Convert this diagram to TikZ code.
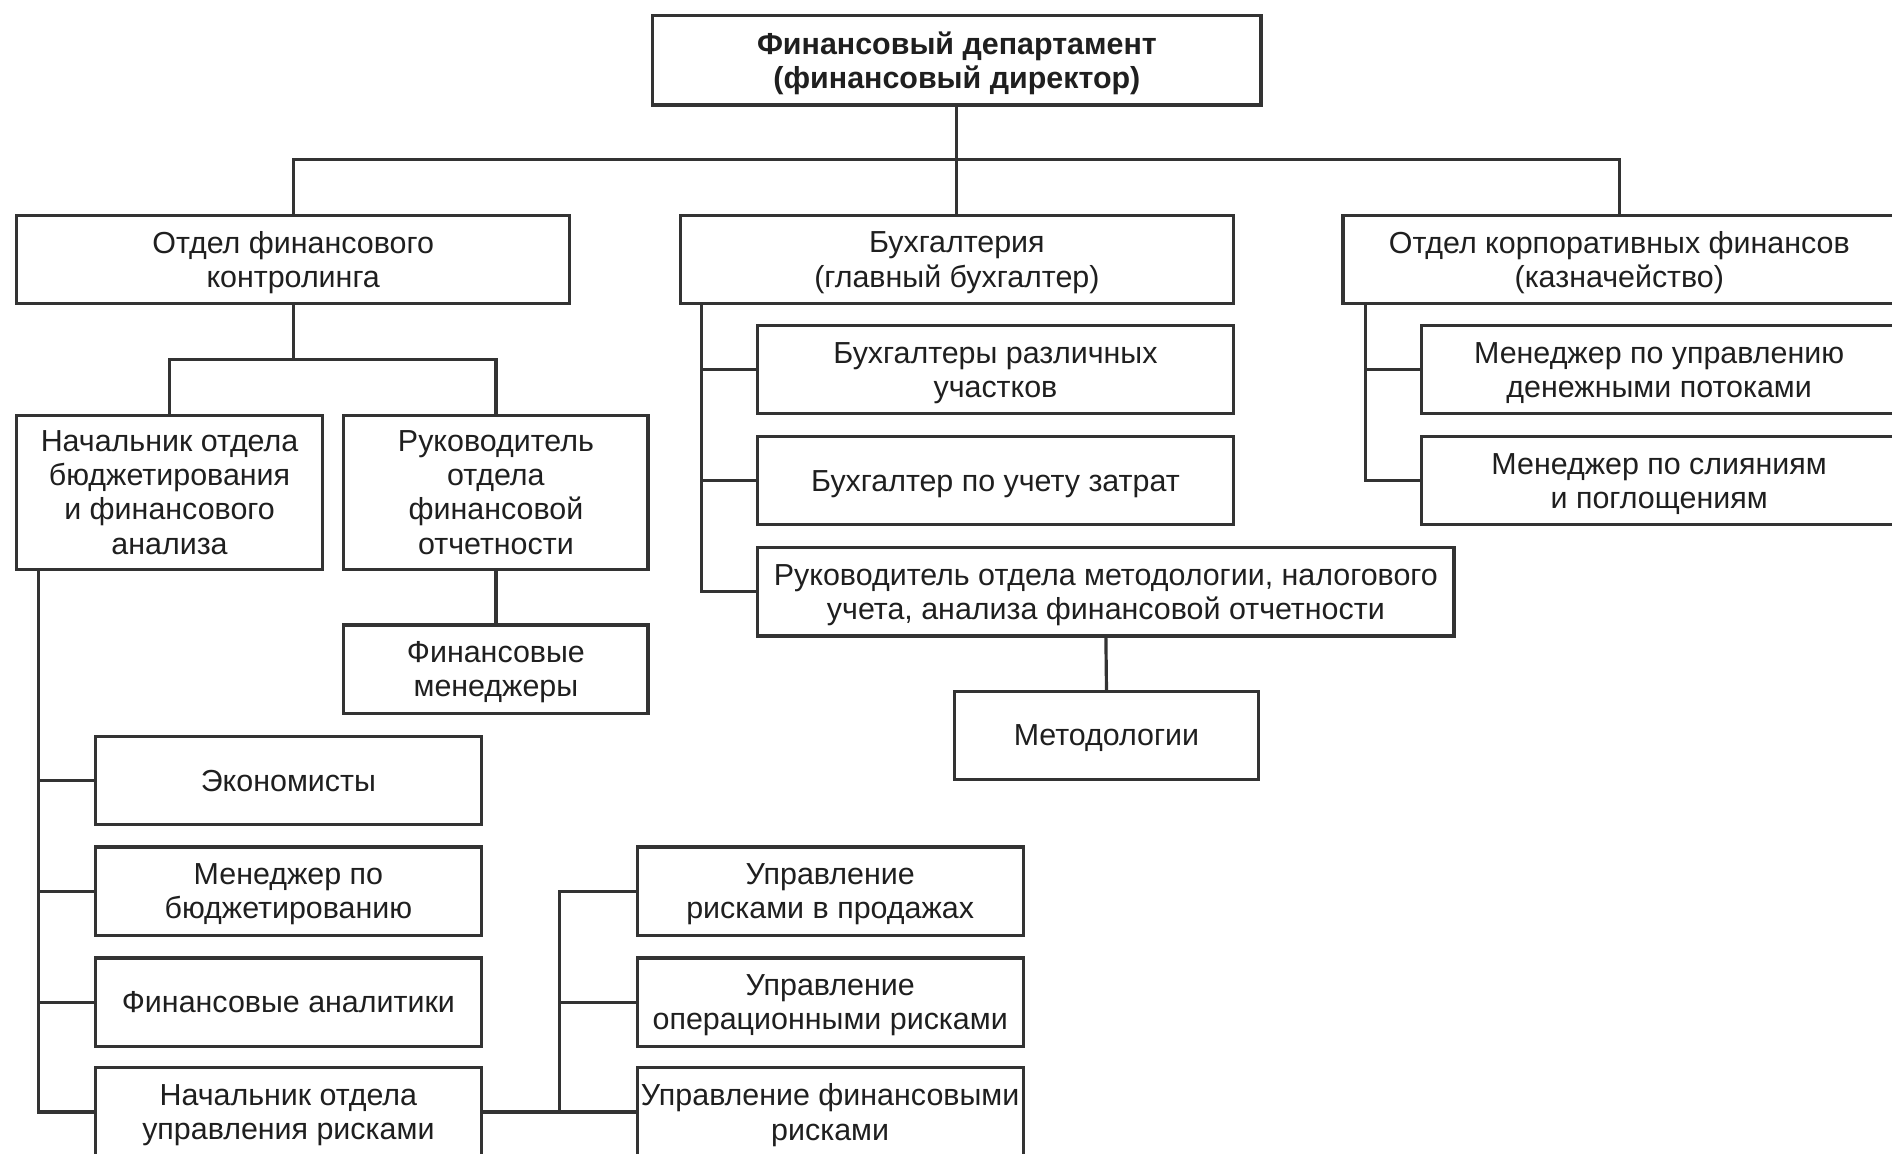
\documentclass[tikz,border=0pt]{standalone}
\usepackage{fontspec}
\setmainfont{Liberation Sans}
\usetikzlibrary{calc}
\newlength{\du}
\setlength{\du}{0.012cm}
\definecolor{dialinecolor}{rgb}{0.200000, 0.200000, 0.200000}
\definecolor{textcolor}{rgb}{0.120000, 0.120000, 0.120000}
\tikzset{
  orgbox/.style={draw=dialinecolor, line width=0.9pt, fill=white, rectangle, inner sep=0pt,
    align=center, text=textcolor, text depth=0pt, font=\fontsize{8.6}{9.7}\selectfont},
  orgline/.style={draw=dialinecolor, line width=0.9pt}
}
\begin{document}
\begin{tikzpicture}
\pgftransformxscale{1.000000}
\pgftransformyscale{-1.000000}
\useasboundingbox (0\du,0\du) rectangle (1568\du,956\du);
\clip (0\du,0\du) rectangle (1568\du,956\du);
% head
\node[orgbox, font=\fontsize{8.6}{9.7}\selectfont\bfseries, minimum width=504\du, minimum height=74\du] (findep) at (793\du,50\du) {Финансовый департамент\\(финансовый директор)};
% departments
\node[orgbox, minimum width=458\du, minimum height=73\du] (otdelfk) at (243\du,215\du) {Отдел финансового\\контролинга};
\node[orgbox, minimum width=458\du, minimum height=73\du] (buh) at (793\du,215\du) {Бухгалтерия\\(главный бухгалтер)};
\node[orgbox, minimum width=458\du, minimum height=73\du] (korp) at (1342\du,215\du) {Отдел корпоративных финансов\\(казначейство)};
% controlling
\node[orgbox, minimum width=253\du, minimum height=128\du] (nachb) at (140.5\du,408\du) {Начальник отдела\\бюджетирования\\и финансового\\анализа};
\node[orgbox, minimum width=252\du, minimum height=128\du] (rukfo) at (411\du,408\du) {Руководитель\\отдела\\финансовой\\отчетности};
\node[orgbox, minimum width=252\du, minimum height=73\du] (finm) at (411\du,554.5\du) {Финансовые\\менеджеры};
\node[orgbox, minimum width=320\du, minimum height=73\du] (ekon) at (239\du,647\du) {Экономисты};
\node[orgbox, minimum width=320\du, minimum height=73\du] (menbud) at (239\du,738.5\du) {Менеджер по\\бюджетированию};
\node[orgbox, minimum width=320\du, minimum height=73\du] (finan) at (239\du,830.5\du) {Финансовые аналитики};
\node[orgbox, minimum width=320\du, minimum height=73\du] (nachr) at (239\du,921.5\du) {Начальник отдела\\управления рисками};
\node[orgbox, minimum width=320\du, minimum height=73\du] (risks) at (688\du,738.5\du) {Управление\\рисками в продажах};
\node[orgbox, minimum width=320\du, minimum height=73\du] (risko) at (688\du,830.5\du) {Управление\\операционными рисками};
\node[orgbox, minimum width=320\du, minimum height=73\du] (riskf) at (688\du,921.5\du) {Управление финансовыми\\рисками};
% accounting
\node[orgbox, minimum width=394\du, minimum height=73\du] (buhu) at (825\du,306.5\du) {Бухгалтеры различных\\участков};
\node[orgbox, minimum width=394\du, minimum height=73\du] (buhz) at (825\du,398.5\du) {Бухгалтер по учету затрат};
\node[orgbox, minimum width=577\du, minimum height=73\du] (rukm) at (916.5\du,490.5\du) {Руководитель отдела методологии, налогового\\учета, анализа финансовой отчетности};
\node[orgbox, minimum width=252\du, minimum height=73\du] (metod) at (917\du,609.5\du) {Методологии};
% treasury
\node[orgbox, minimum width=394\du, minimum height=73\du] (mden) at (1375\du,306.5\du) {Менеджер по управлению\\денежными потоками};
\node[orgbox, minimum width=394\du, minimum height=73\du] (msli) at (1375\du,398.5\du) {Менеджер по слияниям\\и поглощениям};
% connectors
\coordinate (busT) at (793\du,132\du);
\draw[orgline] (findep.south) -- (buh.north);
\draw[orgline] (otdelfk.north) -- (otdelfk.north |- busT) -- (korp.north |- busT) -- (korp.north);
\coordinate (splitA) at (243\du,298\du);
\draw[orgline] (otdelfk.south) -- (splitA);
\draw[orgline] (nachb.north) -- (nachb.north |- splitA) -- (rukfo.north |- splitA) -- (rukfo.north);
\draw[orgline] (rukfo.south) -- (finm.north);
\coordinate (spineA) at ([xshift=19\du]nachb.south west);
\foreach \n in {ekon,menbud,finan,nachr}
  \draw[orgline] (spineA) |- (\n.west);
\coordinate (spineR) at ($(nachr.east)!0.5!(riskf.west)$);
\draw[orgline] (nachr.east) -- (riskf.west);
\foreach \n in {risks,risko}
  \draw[orgline] (spineR) |- (\n.west);
\coordinate (spineB) at ([xshift=19\du]buh.south west);
\foreach \n in {buhu,buhz,rukm}
  \draw[orgline] (spineB) |- (\n.west);
\draw[orgline] (rukm.south) -- (metod.north);
\coordinate (spineC) at ([xshift=20\du]korp.south west);
\foreach \n in {mden,msli}
  \draw[orgline] (spineC) |- (\n.west);
\end{tikzpicture}
\end{document}
